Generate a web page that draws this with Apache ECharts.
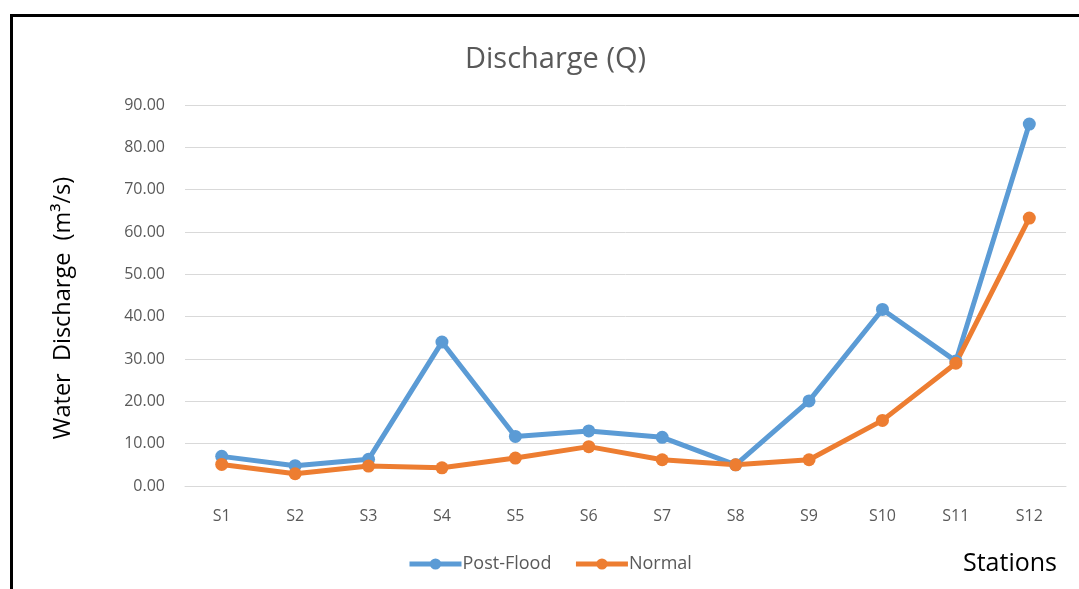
<!DOCTYPE html>
<html>
<head>
<meta charset="utf-8">
<script src="https://cdn.jsdelivr.net/npm/echarts@6/dist/echarts.min.js"></script>
<style>
  html, body { margin: 0; padding: 0; background: #fff; }
  #chart { width: 1079px; height: 589px; }
</style>
</head>
<body>
<div id="chart"></div>
<script>
// Discharge per station
const stations = ['S1', 'S2', 'S3', 'S4', 'S5', 'S6', 'S7', 'S8', 'S9', 'S10', 'S11', 'S12'];
const postFlood = [7.0, 4.8, 6.3, 34.0, 11.7, 13.0, 11.5, 5.0, 20.1, 41.7, 29.5, 85.5];
const normal = [5.1, 2.9, 4.7, 4.3, 6.6, 9.3, 6.2, 5.0, 6.2, 15.5, 29.0, 63.3];

const font = "'Open Sans', 'Noto Sans', sans-serif";
const chart = echarts.init(document.getElementById('chart'));

chart.setOption({
    backgroundColor: '#fff',
    animation: false,
    textStyle: { fontFamily: font },
    title: {
        text: 'Discharge (Q)',
        left: 460,
        top: 40,
        textStyle: { fontSize: 29, fontWeight: 'normal', color: '#595959', fontFamily: font }
    },
    legend: {
        bottom: 11,
        left: 402,
        itemWidth: 52,
        itemHeight: 14,
        itemGap: 22,
        textStyle: { fontSize: 18, color: '#595959', fontFamily: font, padding: [0, 0, 0, -4] },
        lineStyle: { width: 5 },
        data: ['Post-Flood', 'Normal']
    },
    grid: { left: 185, right: 13, top: 105, bottom: 103, containLabel: false },
    xAxis: {
        type: 'category',
        data: stations,
        boundaryGap: true,
        axisLine: { lineStyle: { color: '#d9d9d9' } },
        axisTick: { show: false },
        axisLabel: { fontSize: 16, color: '#595959', margin: 22 }
    },
    yAxis: {
        type: 'value',
        min: 0,
        max: 90,
        interval: 10,
        axisLine: { show: false },
        axisTick: { show: false },
        splitLine: { lineStyle: { color: '#d9d9d9' } },
        axisLabel: { fontSize: 16, color: '#595959', margin: 20, formatter: v => v.toFixed(2) }
    },
    graphic: [
        {
            type: 'rect',
            shape: { x: 11.5, y: 15.5, width: 1200, height: 800 },
            style: { fill: 'none', stroke: '#000', lineWidth: 3 }
        },
        {
            // y axis title
            type: 'text',
            x: 63,
            y: 308,
            rotation: Math.PI / 2,
            style: {
                text: 'Water  Discharge  (m³/s)',
                fontSize: 23.5,
                fill: '#000',
                fontFamily: font,
                textAlign: 'center',
                textVerticalAlign: 'middle'
            }
        },
        {
            type: 'text',
            right: 22,
            top: 551,
            style: { text: 'Stations', fontSize: 25, fill: '#000', fontFamily: font }
        }
    ],
    series: [
        {
            name: 'Post-Flood',
            type: 'line',
            data: postFlood,
            symbol: 'circle',
            symbolSize: 13,
            color: '#5b9bd5',
            lineStyle: { width: 5 }
        },
        {
            name: 'Normal',
            type: 'line',
            data: normal,
            symbol: 'circle',
            symbolSize: 13,
            color: '#ed7d31',
            lineStyle: { width: 5 }
        }
    ]
});
</script>
</body>
</html>
